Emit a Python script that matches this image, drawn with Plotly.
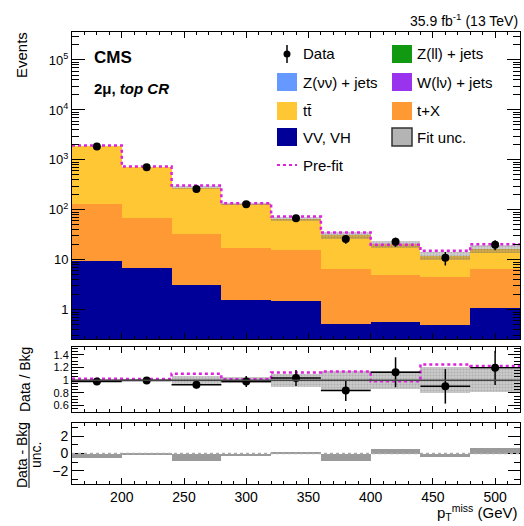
import plotly.graph_objects as go

# ---------------- data ----------------
bin_edges = [160, 200, 240, 280, 320, 360, 400, 440, 480, 520]
bin_centers = [180, 220, 260, 300, 340, 380, 420, 460, 500]
bin_width = 40

vv_vh = [9.6, 7.0, 3.2, 1.6, 1.5, 0.52, 0.56, 0.49, 1.07]
t_x = [122, 61, 30, 15.4, 14.3, 6.0, 4.3, 4.1, 5.4]
ttbar = [1768, 652, 247, 116, 50, 24.5, 15.6, 7.6, 10.3]
w_lnu = [0, 0, 0, 0, 0, 0, 0, 0, 0]
z_nunu = [0, 0, 0, 0, 0, 0, 0, 0, 0]
z_ll = [0, 0, 0, 0, 0, 0, 0, 0, 0]

data = [1862, 716, 260, 130, 68, 26, 23, 11, 20]
data_err = [43, 27, 16, 11.4, 8.2, 5.1, 4.8, 3.3, 4.5]
prefit_total = [1938, 734, 308, 135, 73.6, 35.2, 20.1, 15.2, 20.5]
fit_unc_rel = [0.02, 0.02, 0.06, 0.05, 0.10, 0.15, 0.14, 0.20, 0.18]
pull = [-0.55, -0.15, -0.85, -0.3, 0.2, -0.85, 0.5, -0.35, 0.6]

top_ticks = [1, 10, 100, 1000, 10000, 100000]
top_ticktext = ["1", "10", "10<sup>2</sup>", "10<sup>3</sup>", "10<sup>4</sup>", "10<sup>5</sup>"]
ratio_ticks = [0.6, 0.8, 1.0, 1.2, 1.4]
ratio_ticktext = ["0.6", "0.8", "1", "1.2", "1.4"]
pull_ticks = [-2, 0, 2]
pull_ticktext = ["\u22122", "0", "2"]
x_ticks = [200, 250, 300, 350, 400, 450, 500]

stack_names = ["VV, VH", "t+X", "t\u0074\u0304", "W(l\u03bd) + jets", "Z(\u03bd\u03bd) + jets", "Z(ll) + jets"]
stack_series = [vv_vh, t_x, ttbar, w_lnu, z_nunu, z_ll]
stack_colors = ["#000099", "#ff9933", "#ffc733", "#9933ee", "#6699ff", "#119911"]

# ---------------- geometry ----------------
W, H = 524, 526
def px(x):
    return x / W
def py(y):
    return 1 - y / H

font_family = "Liberation Sans, Arial, Helvetica, sans-serif"

# ---------------- derived ----------------
n = len(bin_centers)
total = [sum(s[i] for s in stack_series) for i in range(n)]
ratio = [data[i] / total[i] for i in range(n)]
ratio_err = [data_err[i] / total[i] for i in range(n)]
prefit_ratio = [prefit_total[i] / total[i] for i in range(n)]

fig = go.Figure()

# stacked backgrounds
cum = [0.0] * n
for name, series, color in zip(stack_names, stack_series, stack_colors):
    base = list(cum) if any(c > 0 for c in cum) else None
    fig.add_trace(go.Bar(
        x=bin_centers, y=series, base=base, width=bin_width,
        marker=dict(color=color, line=dict(width=0)),
        name=name, showlegend=False, xaxis="x", yaxis="y", hoverinfo="skip"))
    cum = [cum[i] + series[i] for i in range(n)]

# fit uncertainty band (top)
fig.add_trace(go.Bar(
    x=bin_centers,
    y=[2 * total[i] * fit_unc_rel[i] for i in range(n)],
    base=[total[i] * (1 - fit_unc_rel[i]) for i in range(n)],
    width=bin_width,
    marker=dict(color="rgba(120,120,120,0.35)", line=dict(width=0),
                pattern=dict(shape=".", fgcolor="rgba(60,60,60,0.45)", size=3, solidity=0.4)),
    showlegend=False, xaxis="x", yaxis="y", hoverinfo="skip"))

# pre-fit line (top)
fig.add_trace(go.Scatter(
    x=bin_edges, y=prefit_total + [prefit_total[-1]], mode="lines",
    line=dict(shape="hv", color="#dd22dd", width=2.5, dash="dot"),
    showlegend=False, xaxis="x", yaxis="y", hoverinfo="skip"))

# data (top)
fig.add_trace(go.Scatter(
    x=bin_centers, y=data, mode="markers",
    marker=dict(color="black", size=8),
    error_y=dict(type="data", array=data_err, color="black", thickness=1.5, width=0),
    showlegend=False, xaxis="x", yaxis="y"))

# ---------- ratio panel ----------
fig.add_trace(go.Bar(
    x=bin_centers, y=[2 * r for r in fit_unc_rel], base=[1 - r for r in fit_unc_rel],
    width=bin_width,
    marker=dict(color="rgba(160,160,160,0.55)", line=dict(width=0),
                pattern=dict(shape=".", fgcolor="rgba(90,90,90,0.5)", size=3, solidity=0.4)),
    showlegend=False, xaxis="x2", yaxis="y2", hoverinfo="skip"))
fig.add_trace(go.Scatter(
    x=bin_edges, y=prefit_ratio + [prefit_ratio[-1]], mode="lines",
    line=dict(shape="hv", color="#dd22dd", width=2.5, dash="dot"),
    showlegend=False, xaxis="x2", yaxis="y2", hoverinfo="skip"))
fig.add_trace(go.Scatter(
    x=bin_centers, y=ratio, mode="markers",
    marker=dict(color="black", size=8),
    error_y=dict(type="data", array=ratio_err, color="black", thickness=1.5, width=0),
    error_x=dict(type="constant", value=bin_width / 2, color="black", thickness=1.5, width=0),
    showlegend=False, xaxis="x2", yaxis="y2"))

# ---------- pull panel ----------
fig.add_trace(go.Bar(
    x=bin_centers, y=pull, width=bin_width,
    marker=dict(color="#9a9a9a", line=dict(width=0)),
    showlegend=False, xaxis="x3", yaxis="y3", hoverinfo="skip"))

# ---------------- axes ----------------
xdom = [px(72), px(520)]
common_x = dict(range=[160, 520], domain=xdom, ticks="inside", ticklen=6, tickwidth=1,
                tickcolor="black", tickvals=x_ticks, mirror="allticks", showline=True,
                linecolor="black", linewidth=1, showgrid=False, zeroline=False,
                minor=dict(ticks="inside", ticklen=3, dtick=10, tick0=0, tickcolor="black", showgrid=False),
                tickfont=dict(family=font_family, size=14, color="black"))

top_minor = []
for d in [0.1, 1, 10, 100, 1000, 10000, 100000]:
    for k in range(2, 10):
        top_minor.append(k * d)

fig.update_layout(
    width=W, height=H, margin=dict(l=0, r=0, t=0, b=0),
    paper_bgcolor="white", plot_bgcolor="white",
    barmode="overlay", bargap=0, showlegend=False,
    font=dict(family=font_family, color="black"),
    xaxis=dict(common_x, anchor="y", showticklabels=False),
    xaxis2=dict(common_x, anchor="y2", matches="x", showticklabels=False),
    xaxis3=dict(common_x, anchor="y3", matches="x", showticklabels=True),
    yaxis=dict(type="log", range=[-0.585, 5.56], domain=[py(339), py(32)], anchor="x",
               tickvals=top_ticks, ticktext=top_ticktext, ticks="inside", ticklen=13,
               tickcolor="black", mirror="allticks", showline=True, linecolor="black",
               linewidth=1, showgrid=False, zeroline=False,
               minor=dict(ticks="inside", ticklen=7, tickmode="array", tickvals=top_minor,
                          tickcolor="black", showgrid=False),
               tickfont=dict(family=font_family, size=13, color="black")),
    yaxis2=dict(range=[0.5, 1.52], domain=[py(412), py(347)], anchor="x2",
                tickvals=ratio_ticks, ticktext=ratio_ticktext, ticks="inside", ticklen=12,
                tickcolor="black", mirror="allticks", showline=True, linecolor="black",
                linewidth=1, showgrid=False, zeroline=False,
                minor=dict(ticks="inside", ticklen=6, dtick=0.05, tick0=0, tickcolor="black", showgrid=False),
                tickfont=dict(family=font_family, size=11, color="black")),
    yaxis3=dict(range=[-3.5, 3.5], domain=[py(484), py(423)], anchor="x3",
                tickvals=pull_ticks, ticktext=pull_ticktext, ticks="inside", ticklen=12,
                tickcolor="black", mirror="allticks", showline=True, linecolor="black",
                linewidth=1, showgrid=False, zeroline=False,
                minor=dict(ticks="inside", ticklen=6, dtick=1, tick0=0, tickcolor="black", showgrid=False),
                tickfont=dict(family=font_family, size=14, color="black")),
)

shapes = []
# reference lines
shapes.append(dict(type="line", xref="x2", yref="y2", x0=160, x1=520, y0=1, y1=1,
                   line=dict(color="#444444", width=1.5)))
shapes.append(dict(type="line", xref="x3", yref="y3", x0=160, x1=520, y0=0, y1=0,
                   line=dict(color="#aaaaaa", width=1.5, dash="dot")))

annotations = []
def text(x, y, s, size=15, xanchor="left", yanchor="middle", angle=0):
    annotations.append(dict(x=px(x), y=py(y), xref="paper", yref="paper", text=s,
                            showarrow=False, xanchor=xanchor, yanchor=yanchor,
                            textangle=angle, font=dict(family=font_family, size=size, color="black")))

# header & labels
text(520, 20, "35.9 fb<sup>-1</sup> (13 TeV)", size=14, xanchor="right")
text(92, 58, "<b>CMS</b>", size=17)
text(92, 89, "<b>2\u03bc, <i>top CR</i></b>", size=15)
text(22, 55, "Events", size=15, xanchor="center", angle=-90)
text(25, 380, "Data / Bkg", size=14, xanchor="center", angle=-90)
text(22, 455, "Data - Bkg", size=14, xanchor="center", angle=-90)
text(36, 455, "unc.", size=14, xanchor="center", angle=-90)
shapes.append(dict(type="line", xref="paper", yref="paper", x0=px(29), x1=px(29),
                   y0=py(423), y1=py(488), line=dict(color="black", width=1)))
text(520, 525, "p<sub>T</sub><sup>miss</sup> (GeV)", size=15, xanchor="right", yanchor="bottom")

# legend (manual, two columns)
row_y = [54, 82, 111, 137, 165]
left_box, right_box = 277, 392
left_txt, right_txt = 301, 415
legend_entries = [
    ("Data", "data", None, 0, 0),
    ("Z(ll) + jets", "box", stack_colors[5], 1, 0),
    ("Z(\u03bd\u03bd) + jets", "box", stack_colors[4], 0, 1),
    ("W(l\u03bd) + jets", "box", stack_colors[3], 1, 1),
    ("t\u0074\u0304", "box", stack_colors[2], 0, 2),
    ("t+X", "box", stack_colors[1], 1, 2),
    ("VV, VH", "box", stack_colors[0], 0, 3),
    ("Fit unc.", "unc", "#b4b4b4", 1, 3),
    ("Pre-fit", "prefit", "#dd22dd", 0, 4),
]
for label, kind, color, col, row in legend_entries:
    bx = left_box if col == 0 else right_box
    tx = left_txt if col == 0 else right_txt
    yc = row_y[row]
    if kind == "box":
        shapes.append(dict(type="rect", xref="paper", yref="paper", x0=px(bx), x1=px(bx + 20),
                           y0=py(yc + 9), y1=py(yc - 9), fillcolor=color, line=dict(width=0)))
    elif kind == "unc":
        shapes.append(dict(type="rect", xref="paper", yref="paper", x0=px(bx), x1=px(bx + 20),
                           y0=py(yc + 9), y1=py(yc - 9), fillcolor=color,
                           line=dict(color="#333333", width=1.5)))
    elif kind == "data":
        shapes.append(dict(type="line", xref="paper", yref="paper", x0=px(bx + 10), x1=px(bx + 10),
                           y0=py(yc + 9), y1=py(yc - 9), line=dict(color="black", width=1.5)))
        shapes.append(dict(type="circle", xref="paper", yref="paper", x0=px(bx + 6.5), x1=px(bx + 13.5),
                           y0=py(yc + 3.5), y1=py(yc - 3.5), fillcolor="black", line=dict(width=0)))
    elif kind == "prefit":
        shapes.append(dict(type="line", xref="paper", yref="paper", x0=px(bx), x1=px(bx + 20),
                           y0=py(yc), y1=py(yc), line=dict(color=color, width=2, dash="dot")))
    text(tx, yc, label, size=15)

fig.update_layout(shapes=shapes, annotations=annotations)

fig.write_html("out.html", config={"displayModeBar": False},
               post_script="document.body.style.margin='0px';document.body.style.overflow='hidden';")
